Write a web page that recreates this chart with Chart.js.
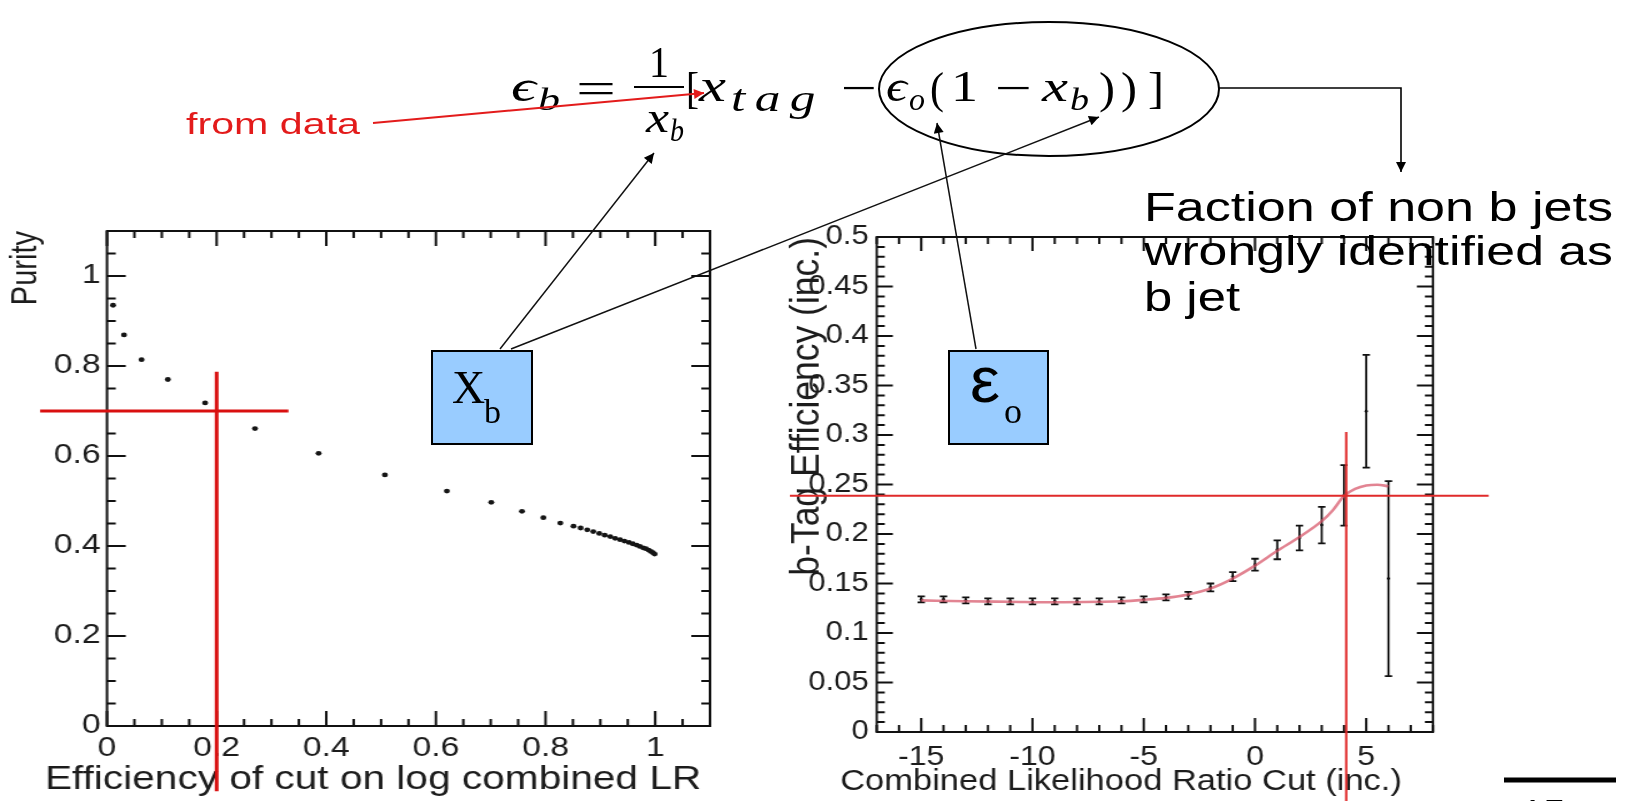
<!DOCTYPE html>
<html>
<head>
<meta charset="utf-8">
<script src="https://cdn.jsdelivr.net/npm/chart.js@4.4.0/dist/chart.umd.min.js"></script>
<style>
  html, body { margin: 0; padding: 0; background: #fff; width: 1634px; height: 801px; overflow: hidden; }
  .plot { position: absolute; top: 200px; transform-origin: 0 0; }
  #purityBox { left: 0; transform: scaleX(1.25); }
  #effBox { left: 760px; transform: scaleX(1.15); }
  #notes { position: absolute; left: 0; top: 0; }
  .serif { font-family: 'Liberation Serif', 'DejaVu Serif', serif; }
  .sans { font-family: 'Liberation Sans', Arial, Helvetica, sans-serif; }
</style>
</head>
<body>
<div class="plot" id="purityBox"><canvas id="purity" width="584" height="601"></canvas></div>
<div class="plot" id="effBox"><canvas id="eff" width="643" height="601"></canvas></div>

<svg id="notes" width="1634" height="801">
  <defs>
    <marker id="tip" viewBox="0 0 10 10" refX="10" refY="5" markerWidth="13" markerHeight="10" markerUnits="userSpaceOnUse" orient="auto">
      <path d="M0,0 L10,5 L0,10 z" fill="#000"/>
    </marker>
    <marker id="tipRed" viewBox="0 0 10 10" refX="10" refY="5" markerWidth="13" markerHeight="10" markerUnits="userSpaceOnUse" orient="auto">
      <path d="M0,0 L10,5 L0,10 z" fill="#e31b1b"/>
    </marker>
  </defs>

  <!-- eps_b = 1/x_b [x_tag - eps_o (1 - x_b)] -->
  <g class="serif" fill="#000">
    <text x="511" y="101" font-size="45" font-style="italic" textLength="25" lengthAdjust="spacingAndGlyphs">ϵ</text>
    <text x="538" y="110" font-size="32" font-style="italic" textLength="22" lengthAdjust="spacingAndGlyphs">b</text>
    <text x="576" y="103" font-size="45" textLength="40" lengthAdjust="spacingAndGlyphs">=</text>
    <text x="649" y="77" font-size="45" textLength="20" lengthAdjust="spacingAndGlyphs">1</text>
    <line x1="634" y1="87" x2="684" y2="87" stroke="#000" stroke-width="2.2"/>
    <text x="646" y="132" font-size="45" font-style="italic" textLength="23" lengthAdjust="spacingAndGlyphs">x</text>
    <text x="670" y="141" font-size="32" font-style="italic" textLength="14" lengthAdjust="spacingAndGlyphs">b</text>
    <text x="686" y="103" font-size="45" textLength="13" lengthAdjust="spacingAndGlyphs">[</text>
    <text x="699" y="101" font-size="47" font-style="italic" textLength="27" lengthAdjust="spacingAndGlyphs">x</text>
    <text transform="translate(731,111) scale(1.35,1)" font-size="38" font-style="italic" letter-spacing="7">tag</text>
    <text x="841" y="103" font-size="45" textLength="36" lengthAdjust="spacingAndGlyphs">−</text>
    <text x="886" y="101" font-size="45" font-style="italic" textLength="21" lengthAdjust="spacingAndGlyphs">ϵ</text>
    <text x="909" y="110" font-size="32" font-style="italic" textLength="16" lengthAdjust="spacingAndGlyphs">o</text>
    <text x="930" y="103" font-size="45" textLength="14" lengthAdjust="spacingAndGlyphs">(</text>
    <text x="951" y="101" font-size="45" textLength="27" lengthAdjust="spacingAndGlyphs">1</text>
    <text x="995" y="103" font-size="45" textLength="37" lengthAdjust="spacingAndGlyphs">−</text>
    <text x="1042" y="101" font-size="45" font-style="italic" textLength="26" lengthAdjust="spacingAndGlyphs">x</text>
    <text x="1070" y="110" font-size="32" font-style="italic" textLength="19" lengthAdjust="spacingAndGlyphs">b</text>
    <text x="1099" y="103" font-size="45" textLength="16" lengthAdjust="spacingAndGlyphs">)</text>
    <text x="1121" y="103" font-size="45" textLength="16" lengthAdjust="spacingAndGlyphs">)</text>
    <text x="1148" y="103" font-size="45" textLength="16" lengthAdjust="spacingAndGlyphs">]</text>
  </g>
  <ellipse cx="1049" cy="89" rx="170" ry="67" fill="none" stroke="#000" stroke-width="2"/>
  <path d="M1219,88 H1401 V172" fill="none" stroke="#000" stroke-width="1.6" marker-end="url(#tip)"/>

  <!-- red note -->
  <text class="sans" x="186" y="134" font-size="30" fill="#e31b1b" textLength="174" lengthAdjust="spacingAndGlyphs">from data</text>
  <line x1="373" y1="123" x2="704" y2="93" stroke="#e31b1b" stroke-width="2" marker-end="url(#tipRed)"/>

  <!-- side text -->
  <g class="sans" font-size="41" fill="#000">
    <text x="1144" y="221" textLength="469" lengthAdjust="spacingAndGlyphs">Faction of non b jets</text>
    <text x="1144" y="265" textLength="469" lengthAdjust="spacingAndGlyphs">wrongly identified as</text>
    <text x="1144" y="311" textLength="96" lengthAdjust="spacingAndGlyphs">b jet</text>
  </g>

  <!-- x_b pointer -->
  <line x1="500" y1="349" x2="654" y2="153" stroke="#111" stroke-width="1.5" marker-end="url(#tip)"/>
  <line x1="511" y1="349" x2="1099" y2="117" stroke="#111" stroke-width="1.5" marker-end="url(#tip)"/>
  <rect x="432" y="351" width="100" height="93" fill="#99ccff" stroke="#000" stroke-width="2"/>
  <text class="serif" x="452" y="403" font-size="46">X</text>
  <text class="serif" x="484" y="423" font-size="34">b</text>

  <!-- eps_o pointer -->
  <line x1="976" y1="349" x2="937" y2="123" stroke="#111" stroke-width="1.5" marker-end="url(#tip)"/>
  <rect x="949" y="351" width="99" height="93" fill="#99ccff" stroke="#000" stroke-width="2"/>
  <text class="sans" x="970" y="402" font-size="64" textLength="30" lengthAdjust="spacingAndGlyphs">ε</text>
  <text class="serif" x="1004" y="423" font-size="36">o</text>

  <line x1="1504" y1="780" x2="1616" y2="780" stroke="#000" stroke-width="5"/>
  <text class="sans" x="1521" y="828" font-size="40" fill="#000">15</text>
</svg>

<script>
// purity against efficiency of the cut on log(combined LR)
const cutEff = [0.011, 0.031, 0.063, 0.111, 0.179, 0.270, 0.386, 0.507, 0.620, 0.701, 0.757, 0.796, 0.827,
  0.851, 0.864, 0.876, 0.887, 0.898, 0.908, 0.918, 0.927, 0.936, 0.944, 0.952, 0.959, 0.966, 0.972,
  0.978, 0.983, 0.988, 0.992, 0.996, 0.999];
const purity = [0.935, 0.869, 0.814, 0.770, 0.718, 0.661, 0.606, 0.558, 0.522, 0.497, 0.477, 0.463, 0.451,
  0.444, 0.440, 0.436, 0.432, 0.428, 0.424, 0.421, 0.417, 0.414, 0.411, 0.408, 0.405, 0.402, 0.399,
  0.396, 0.394, 0.391, 0.388, 0.385, 0.382];
const effTicks = [0, 0.2, 0.4, 0.6, 0.8, 1];
const purityTicks = [0, 0.2, 0.4, 0.6, 0.8, 1];
const purityCut = { x: 0.2, y: 0.7 };

// b-tag efficiency against the combined LR cut
const lrCut = [-15, -14, -13, -12, -11, -10, -9, -8, -7, -6, -5, -4, -3, -2, -1, 0, 1, 2, 3, 4, 5, 6];
const bEff = [0.134, 0.134, 0.133, 0.132, 0.132, 0.132, 0.132, 0.132, 0.132, 0.133, 0.134, 0.136,
  0.138, 0.146, 0.157, 0.169, 0.184, 0.196, 0.209, 0.239, 0.324, 0.155];
const bEffErr = [0.003, 0.003, 0.003, 0.003, 0.003, 0.003, 0.003, 0.003, 0.003, 0.003, 0.003, 0.003,
  0.0035, 0.004, 0.0045, 0.006, 0.0095, 0.0125, 0.0185, 0.0305, 0.057, 0.0985];
const fitCut = [-15, -13, -11, -9, -7, -6, -5, -4, -3, -2, -1, 0, 1, 2, 3, 3.5, 4, 4.5, 5, 5.5, 6];
const fitEff = [0.133, 0.132, 0.1315, 0.131, 0.1315, 0.132, 0.1335, 0.1355, 0.139, 0.145, 0.155, 0.168,
  0.183, 0.197, 0.213, 0.224, 0.2385, 0.2455, 0.249, 0.2498, 0.2482];
const lrTicks = [-15, -10, -5, 0, 5];
const bEffTicks = [0, 0.05, 0.1, 0.15, 0.2, 0.25, 0.3, 0.35, 0.4, 0.45, 0.5];
const lrWorkingPoint = { x: 4.1, y: 0.2387 };

const INK = '#1c1c1c';
const SANS = "'Liberation Sans', Arial, Helvetica, sans-serif";
Chart.defaults.font.family = SANS;
Chart.defaults.color = INK;

// ROOT style frame: box with inward ticks on all four sides
const rootFrame = {
  id: 'rootFrame',
  beforeDatasetsDraw(chart, args, o) {
    const { ctx, chartArea: a, scales: { x, y } } = chart;
    const isMajor = (v, list) => list.some(m => Math.abs(m - v) < 1e-6);
    ctx.save();
    ctx.strokeStyle = '#111';
    ctx.lineWidth = o.lineWidth;
    ctx.strokeRect(a.left, a.top, a.right - a.left, a.bottom - a.top);
    ctx.beginPath();
    const nx = Math.round((x.max - x.min) / o.xStep);
    for (let i = 0; i <= nx; i++) {
      const v = x.min + i * o.xStep;
      const px = x.getPixelForValue(v);
      const len = isMajor(v, o.xMajor) ? o.major : o.minor;
      ctx.moveTo(px, a.bottom); ctx.lineTo(px, a.bottom - len);
      ctx.moveTo(px, a.top); ctx.lineTo(px, a.top + len);
    }
    const ny = Math.round((y.max - y.min) / o.yStep);
    for (let i = 0; i <= ny; i++) {
      const v = y.min + i * o.yStep;
      const py = y.getPixelForValue(v);
      const len = isMajor(v, o.yMajor) ? o.major : o.minor;
      ctx.moveTo(a.left, py); ctx.lineTo(a.left + len, py);
      ctx.moveTo(a.right, py); ctx.lineTo(a.right - len, py);
    }
    ctx.stroke();
    ctx.restore();
  }
};

// x axis caption, right aligned like ROOT does it (may run past the frame on the left)
const xCaption = {
  id: 'xCaption',
  afterDraw(chart, args, o) {
    const { ctx, chartArea: a } = chart;
    ctx.save();
    ctx.font = `${o.size}px ${SANS}`;
    ctx.fillStyle = INK;
    ctx.textAlign = 'right';
    ctx.textBaseline = 'alphabetic';
    ctx.fillText(o.text, a.right - o.inset, o.baseline);
    ctx.restore();
  }
};

// red lines marking the chosen working point
const crossHair = {
  id: 'crossHair',
  afterDraw(chart, args, o) {
    const { ctx, scales: { x, y } } = chart;
    ctx.save();
    ctx.strokeStyle = o.color;
    ctx.lineWidth = o.width;
    ctx.beginPath();
    ctx.moveTo(x.getPixelForValue(o.hFrom), y.getPixelForValue(o.at.y));
    ctx.lineTo(x.getPixelForValue(o.hTo), y.getPixelForValue(o.at.y));
    ctx.moveTo(x.getPixelForValue(o.at.x), y.getPixelForValue(o.vFrom));
    ctx.lineTo(x.getPixelForValue(o.at.x), y.getPixelForValue(o.vTo));
    ctx.stroke();
    ctx.restore();
  }
};

// vertical error bars with small caps
const errorBars = {
  id: 'errorBars',
  beforeDatasetsDraw(chart, args, o) {
    if (!o.values) return;
    const { ctx, scales: { x, y } } = chart;
    ctx.save();
    ctx.strokeStyle = '#111';
    ctx.lineWidth = o.width;
    ctx.beginPath();
    o.at.forEach((c, i) => {
      const px = x.getPixelForValue(c);
      const lo = y.getPixelForValue(o.values[i] - o.errors[i]);
      const hi = y.getPixelForValue(o.values[i] + o.errors[i]);
      ctx.moveTo(px, lo); ctx.lineTo(px, hi);
      ctx.moveTo(px - o.cap, lo); ctx.lineTo(px + o.cap, lo);
      ctx.moveTo(px - o.cap, hi); ctx.lineTo(px + o.cap, hi);
    });
    ctx.stroke();
    ctx.restore();
  }
};

const plain = v => `${v}`;
const noGrid = { display: false, drawTicks: false };

new Chart(document.getElementById('purity'), {
  type: 'scatter',
  data: {
    datasets: [{
      data: cutEff.map((e, i) => ({ x: e, y: purity[i] })),
      pointRadius: 2.4,
      pointBorderWidth: 0,
      pointBackgroundColor: '#151515'
    }]
  },
  options: {
    responsive: false,
    animation: false,
    events: [],
    layout: { padding: { top: 31, right: 16, left: 0, bottom: 0 } },
    plugins: {
      legend: { display: false },
      tooltip: { enabled: false },
      rootFrame: { lineWidth: 2, xStep: 0.05, yStep: 0.05, xMajor: effTicks, yMajor: purityTicks, major: 15, minor: 7 },
      xCaption: { text: 'Efficiency of cut on log combined LR', size: 32.5, inset: 7, baseline: 589 },
      crossHair: { at: purityCut, hFrom: -0.122, hTo: 0.331, vFrom: 0.787, vTo: -0.145, color: '#d90f0f', width: 3 }
    },
    scales: {
      x: {
        type: 'linear', min: 0, max: 1.1,
        grid: noGrid, border: { display: false },
        afterBuildTicks: s => { s.ticks = effTicks.map(v => ({ value: v })); },
        afterFit: s => { s.height = 75; },
        ticks: { font: { size: 27 }, padding: 6, maxRotation: 0, autoSkip: false, callback: plain }
      },
      y: {
        type: 'linear', min: 0, max: 1.1,
        grid: noGrid, border: { display: false },
        afterBuildTicks: s => { s.ticks = purityTicks.map(v => ({ value: v })); },
        afterFit: s => { s.width = 85.6; },
        ticks: { font: { size: 27 }, padding: 5, autoSkip: false, callback: plain },
        title: { display: true, text: 'Purity', align: 'end', font: { size: 29 }, padding: { top: 3.4, bottom: 0 } }
      }
    }
  },
  plugins: [rootFrame, xCaption, crossHair]
});

new Chart(document.getElementById('eff'), {
  type: 'scatter',
  data: {
    datasets: [{
      type: 'line',
      data: fitCut.map((c, i) => ({ x: c, y: fitEff[i] })),
      borderColor: 'rgba(214, 80, 100, 0.7)',
      borderWidth: 2.6,
      pointRadius: 0,
      cubicInterpolationMode: 'monotone',
      fill: false
    }, {
      data: lrCut.map((c, i) => ({ x: c, y: bEff[i] })),
      pointRadius: 1.4,
      pointBorderWidth: 0,
      pointBackgroundColor: '#111'
    }]
  },
  options: {
    responsive: false,
    animation: false,
    events: [],
    layout: { padding: { top: 37, right: 57.8, left: 0, bottom: 0 } },
    plugins: {
      legend: { display: false },
      tooltip: { enabled: false },
      rootFrame: { lineWidth: 2, xStep: 1, yStep: 0.01, xMajor: lrTicks, yMajor: bEffTicks, major: 14, minor: 7 },
      errorBars: { at: lrCut, values: bEff, errors: bEffErr, width: 1.8, cap: 3.2 },
      xCaption: { text: 'Combined Likelihood Ratio Cut (inc.)', size: 30, inset: 27, baseline: 590 },
      crossHair: { at: lrWorkingPoint, hFrom: -20.9, hTo: 10.5, vFrom: 0.303, vTo: -0.08, color: '#e02a2a', width: 2 }
    },
    scales: {
      x: {
        type: 'linear', min: -17, max: 8,
        grid: noGrid, border: { display: false },
        afterBuildTicks: s => { s.ticks = lrTicks.map(v => ({ value: v })); },
        afterFit: s => { s.height = 69; },
        ticks: { font: { size: 28 }, padding: 8, maxRotation: 0, autoSkip: false, callback: plain }
      },
      y: {
        type: 'linear', min: 0, max: 0.5,
        grid: noGrid, border: { display: false },
        afterBuildTicks: s => { s.ticks = bEffTicks.map(v => ({ value: v })); },
        afterFit: s => { s.width = 101.5; },
        ticks: { font: { size: 27 }, padding: 7, autoSkip: false, callback: plain },
        title: { display: true, text: 'b-Tag Efficiency (inc.)', align: 'end', font: { size: 35.5 }, padding: { top: 20.4, bottom: 0 } }
      }
    }
  },
  plugins: [rootFrame, errorBars, xCaption, crossHair]
});
</script>
</body>
</html>
